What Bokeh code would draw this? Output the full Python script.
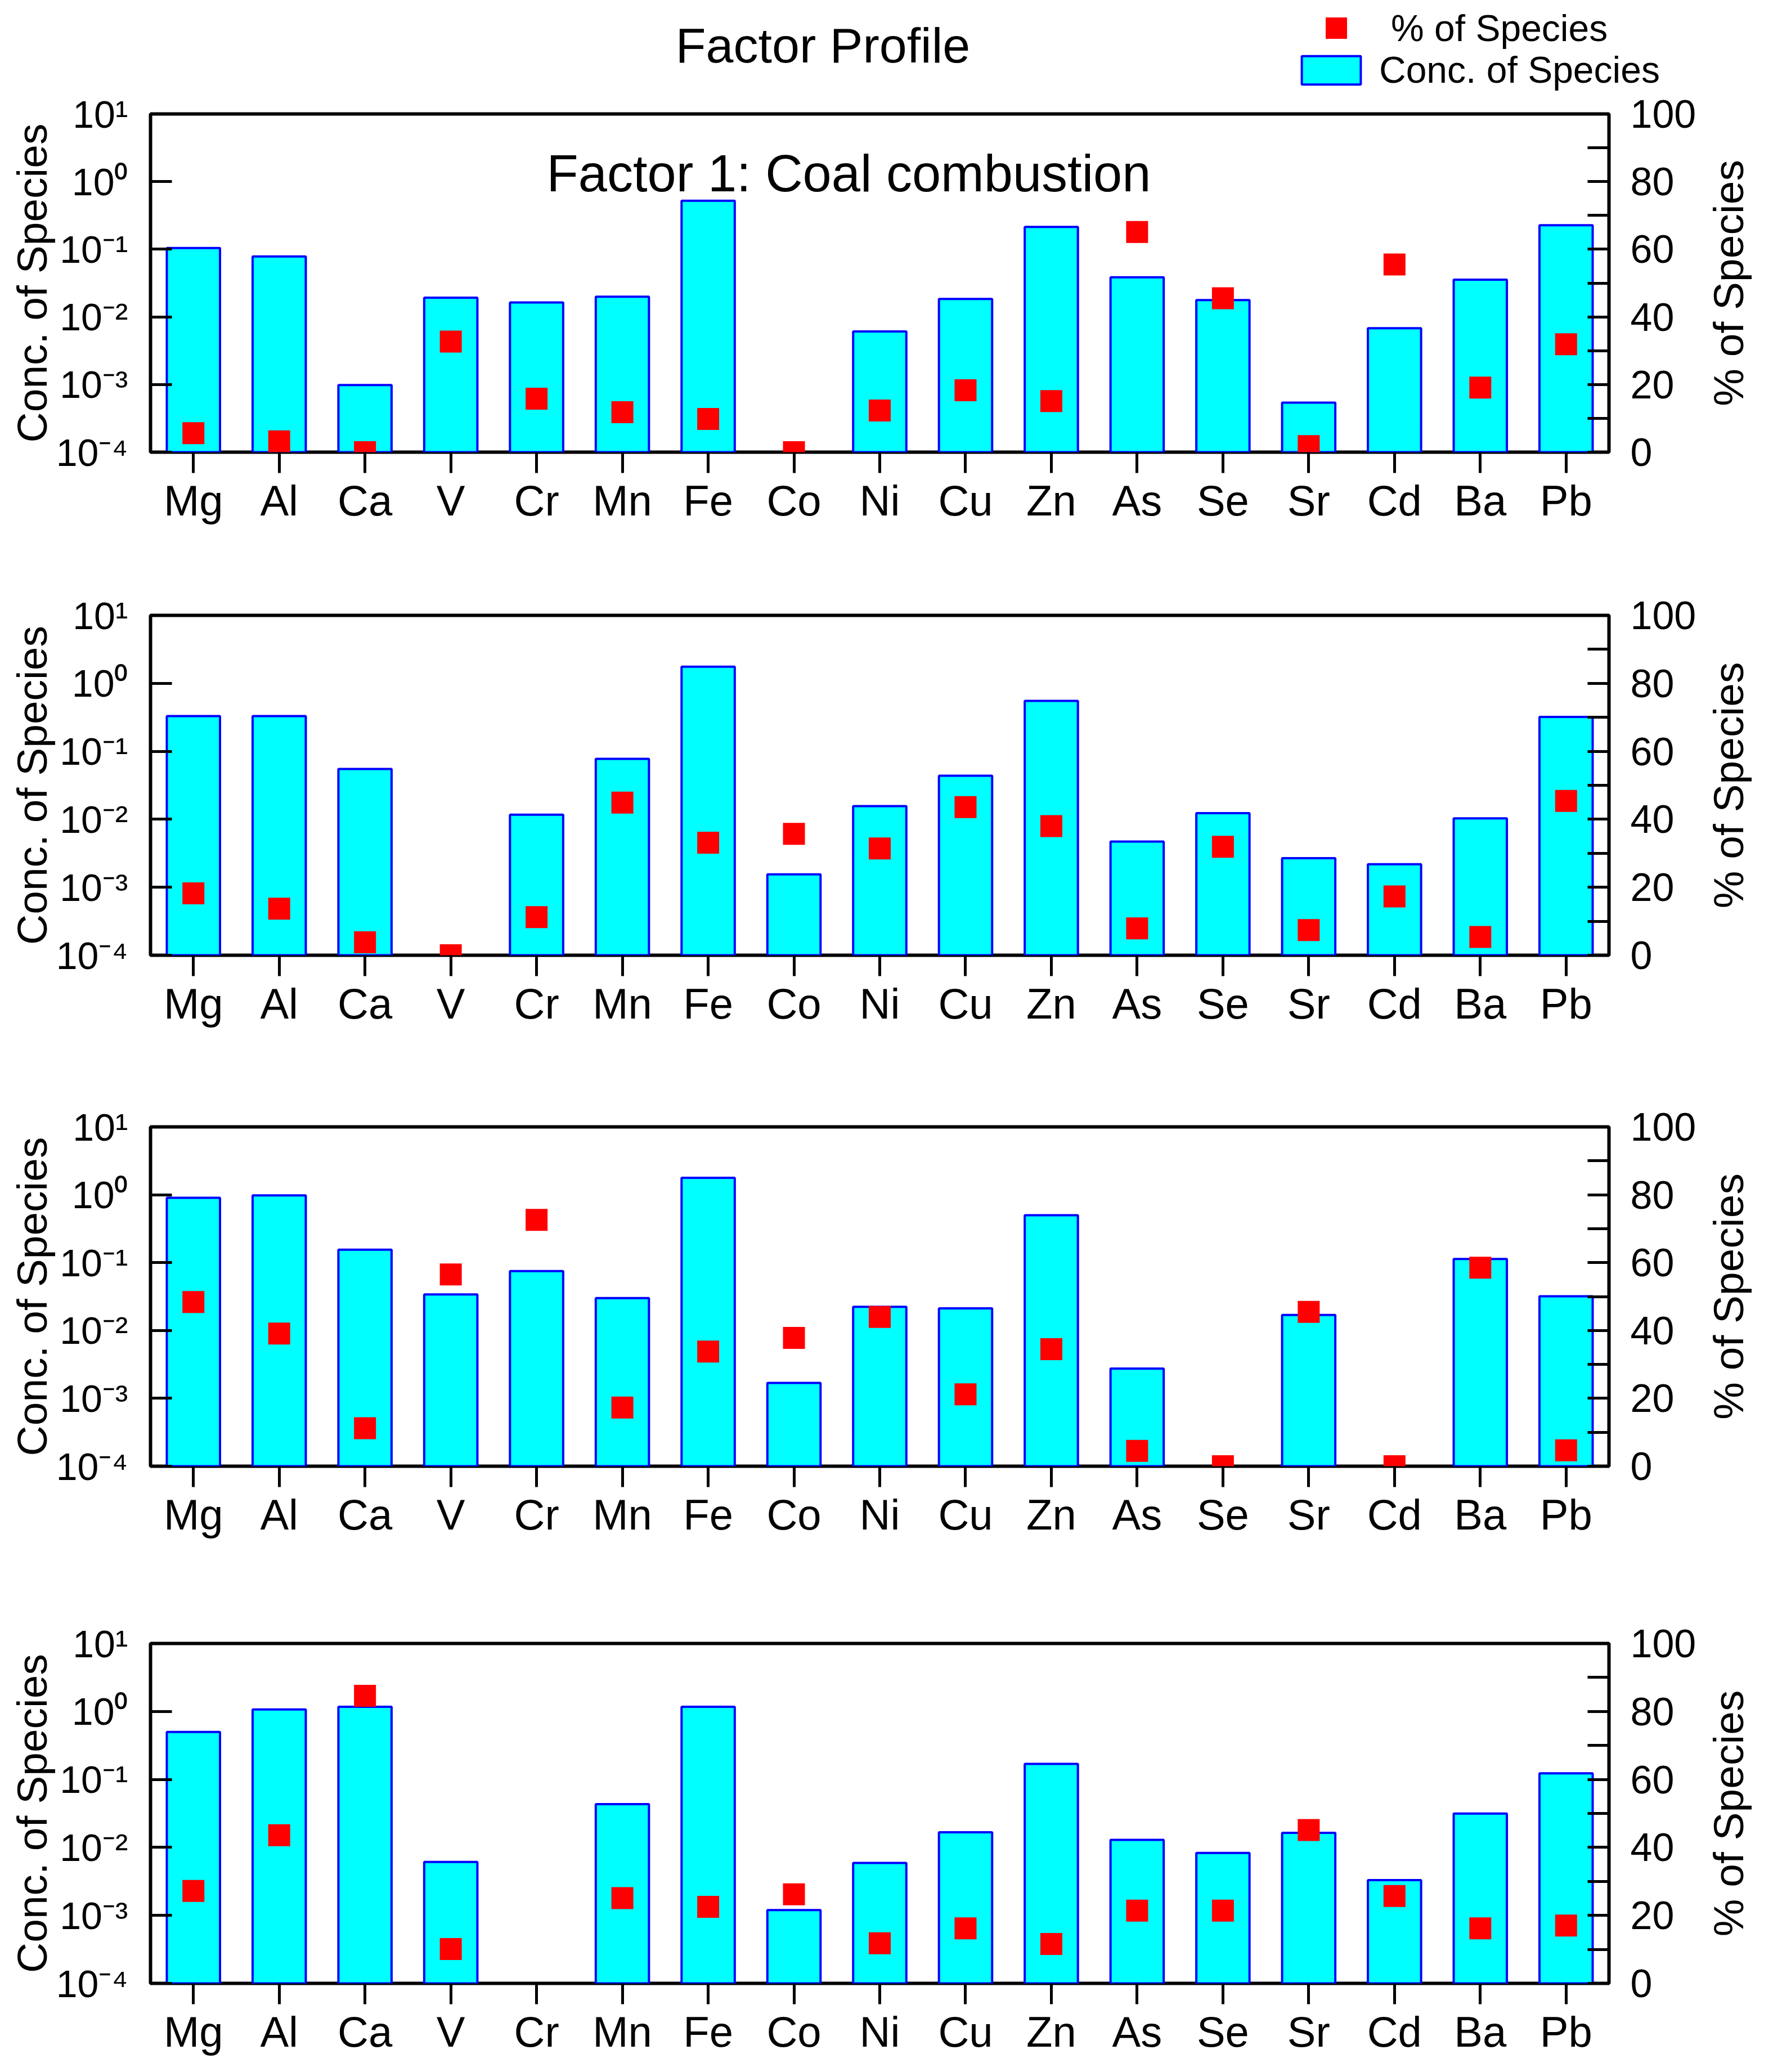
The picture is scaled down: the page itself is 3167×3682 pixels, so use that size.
import math
import numpy as np
from bokeh.plotting import figure
from bokeh.models import (FactorRange, Range1d, LinearAxis, LinearScale, FixedTicker,
                          Label, Legend, LegendItem, ColumnDataSource)
from bokeh.layouts import column
from bokeh.embed import file_html
from bokeh.resources import INLINE

# ---------------- data ----------------
elements = ["Mg", "Al", "Ca", "V", "Cr", "Mn", "Fe", "Co", "Ni", "Cu",
            "Zn", "As", "Se", "Sr", "Cd", "Ba", "Pb"]

f1_conc = [0.104, 0.078, 0.00098, 0.0192, 0.0163, 0.0199, 0.52, None, 0.0061, 0.0184,
           0.214, 0.0385, 0.0177, 0.00054, 0.0068, 0.0355, 0.226]
f1_pct = [5.6, 3.2, 0.0, 32.7, 15.8, 11.8, 9.8, 0.0, 12.3, 18.3,
          15.1, 65.1, 45.5, 1.8, 55.5, 19.1, 31.9]

f2_conc = [0.33, 0.33, 0.055, None, 0.0117, 0.0774, 1.76, 0.00155, 0.0156, 0.0438,
           0.552, 0.0047, 0.0123, 0.00268, 0.00218, 0.0103, 0.32]
f2_pct = [18.2, 13.7, 3.8, 0.0, 11.2, 44.9, 33.1, 35.7, 31.4, 43.6,
          38.0, 7.9, 31.9, 7.4, 17.3, 5.4, 45.4]

f3_conc = [0.90, 0.98, 0.155, 0.034, 0.075, 0.030, 1.78, 0.00169, 0.0223, 0.0212,
           0.50, 0.00274, None, 0.0169, None, 0.113, 0.032]
f3_pct = [48.4, 39.1, 11.2, 56.5, 72.6, 17.3, 33.8, 37.8, 44.0, 21.2,
          34.5, 4.5, 0.0, 45.5, 0.0, 58.5, 4.7]

f4_conc = [0.50, 1.07, 1.17, 0.0061, None, 0.0434, 1.17, 0.0012, 0.0059, 0.0167,
           0.169, 0.0129, 0.0083, 0.0164, 0.0033, 0.0315, 0.123]
f4_pct = [27.2, 43.6, 84.6, 10.1, None, 25.1, 22.5, 26.2, 11.8, 16.2,
          11.6, 21.4, 21.4, 45.1, 25.7, 16.2, 17.0]

log_ticks = [1e-4, 1e-3, 1e-2, 1e-1, 1.0, 10.0]
log_tick_labels = ["10\u207b\u2074", "10\u207b\u00b3", "10\u207b\u00b2", "10\u207b\u00b9",
                   "10\u2070", "10\u00b9"]
pct_ticks = [0, 20, 40, 60, 80, 100]
pct_minor = [10, 30, 50, 70, 90]

main_title = "Factor Profile"
subtitle = "Factor 1: Coal combustion"
left_title = "Conc. of Species"
right_title = "% of Species"
legend_pct = "% of Species"
legend_conc = "Conc. of Species"

FONT = "Liberation Sans"
W = 3159
BL, BR = 267, 300
RT_FONT = 75
RT_LEN = 5.836 * RT_FONT   # approx. rendered length of the right title


# ---------------- header (title + legend) ----------------
HDR_H = 162
hdr = figure(width=W, height=HDR_H, x_range=Range1d(0, 1), y_range=Range1d(0, 1),
             x_axis_location=None, y_axis_location=None, title=None,
             output_backend="svg", toolbar_location=None,
             min_border_left=0, min_border_right=0, min_border_top=0, min_border_bottom=0)
try:
    hdr.frame_align = False
except Exception:
    pass
hdr.grid.visible = False
hdr.outline_line_color = None
hdr.background_fill_color = "white"
hdr.border_fill_color = "white"
# legend-only renderers (no visible marks in the header)
h_sq = hdr.scatter(x=np.array([np.nan]), y=np.array([np.nan]), marker="square", size=38,
                   fill_color="#FF0000", line_color=None)
h_bar = hdr.vbar(x=np.array([np.nan]), top=np.array([np.nan]), width=0.5,
                 fill_color="#00FFFF", line_color="#0000FF", line_width=4)
hdr.add_layout(Label(x=1462, y=82, x_units="screen", y_units="screen",
                     text=main_title, text_align="center", text_baseline="alphabetic",
                     text_font_size="88px", text_font=FONT, text_color="black"))
leg1 = Legend(items=[LegendItem(label=legend_pct, renderers=[h_sq])],
              location=(2309, 65), glyph_width=131, glyph_height=95,
              label_standoff=32, padding=0, margin=0, spacing=0, label_height=76,
              border_line_color=None, background_fill_alpha=0,
              label_text_font_size="66px", label_text_font=FONT, label_text_color="black")
leg2 = Legend(items=[LegendItem(label=legend_conc, renderers=[h_bar])],
              location=(2300, 0), glyph_width=131, glyph_height=63,
              label_standoff=20, padding=0, margin=0, spacing=0, label_height=76,
              border_line_color=None, background_fill_alpha=0,
              label_text_font_size="66px", label_text_font=FONT, label_text_color="black")
hdr.add_layout(leg1)
hdr.add_layout(leg2)


def make_panel(conc, pct, top_b, frame_h, bot_b, first=False):
    p = figure(width=W, height=top_b + frame_h + bot_b,
               x_range=FactorRange(factors=elements, range_padding=0),
               y_range=Range1d(1e-4, 10), y_axis_type="log", title=None,
               output_backend="svg", toolbar_location=None,
               min_border_left=BL, min_border_right=BR,
               min_border_top=top_b, min_border_bottom=bot_b)
    p.extra_y_ranges = {"pct": Range1d(0, 100)}
    p.extra_y_scales = {"pct": LinearScale()}
    p.xgrid.visible = False
    p.ygrid.visible = False
    p.outline_line_color = "black"
    p.outline_line_width = 6
    p.outline_line_alpha = 1.0
    p.background_fill_color = "white"
    p.border_fill_color = "white"

    bi = [i for i, v in enumerate(conc) if v is not None]
    bsrc = ColumnDataSource(dict(el=[elements[i] for i in bi], top=[conc[i] for i in bi]))
    p.vbar(x="el", top="top", bottom=1e-4, width=0.62, source=bsrc,
           fill_color="#00FFFF", line_color="#0000FF", line_width=4)

    si = [i for i, v in enumerate(pct) if v is not None]
    ssrc = ColumnDataSource(dict(el=[elements[i] for i in si], pct=[pct[i] for i in si]))
    p.scatter(x="el", y="pct", source=ssrc, marker="square", size=39,
              fill_color="#FF0000", line_color=None, y_range_name="pct")

    la = p.left[0]
    la.ticker = FixedTicker(ticks=log_ticks, minor_ticks=[])
    la.major_label_overrides = {t: s for t, s in zip(log_ticks, log_tick_labels)}
    la.axis_line_color = None
    la.major_tick_in = 38
    la.major_tick_out = 0
    la.major_tick_line_width = 5
    la.minor_tick_in = 0
    la.minor_tick_out = 0
    la.major_label_standoff = 40
    la.major_label_text_font_size = "68px"
    la.major_label_text_font = FONT
    la.major_label_text_color = "black"
    la.axis_label = left_title
    la.axis_label_standoff = -2
    la.axis_label_text_font = FONT
    la.axis_label_text_font_size = "75px"
    la.axis_label_text_font_style = "normal"
    la.axis_label_text_color = "black"

    ra = LinearAxis(y_range_name="pct",
                    ticker=FixedTicker(ticks=pct_ticks, minor_ticks=pct_minor))
    ra.axis_line_color = None
    ra.major_tick_in = 38
    ra.major_tick_out = 0
    ra.minor_tick_in = 38
    ra.minor_tick_out = 0
    ra.major_tick_line_width = 5
    ra.minor_tick_line_width = 5
    ra.major_label_standoff = 38
    ra.major_label_text_font_size = "70px"
    ra.major_label_text_font = FONT
    ra.major_label_text_color = "black"
    p.add_layout(ra, "right")

    # right-hand title, reading bottom-to-top, centred on the frame
    t0 = round(50 - (RT_LEN / 2) / (frame_h / 100.0), 4)
    ra2 = LinearAxis(y_range_name="pct", ticker=FixedTicker(ticks=[t0], minor_ticks=[]))
    ra2.major_label_overrides = {t0: right_title}
    ra2.major_label_orientation = math.pi / 2
    ra2.axis_line_color = None
    ra2.major_tick_in = 0
    ra2.major_tick_out = 0
    ra2.minor_tick_in = 0
    ra2.minor_tick_out = 0
    ra2.major_label_standoff = 55
    ra2.major_label_text_font_size = "%dpx" % RT_FONT
    ra2.major_label_text_font = FONT
    ra2.major_label_text_color = "black"
    p.add_layout(ra2, "right")

    xa = p.below[0]
    xa.axis_line_color = None
    xa.major_tick_in = 0
    xa.major_tick_out = 37
    xa.major_tick_line_width = 5
    xa.major_label_standoff = 6
    xa.major_label_text_font_size = "76px"
    xa.major_label_text_font = FONT
    xa.major_label_text_color = "black"

    if first:
        p.add_layout(Label(x=1241, y=frame_h - (315 - 210), x_units="screen", y_units="screen",
                           text=subtitle, text_align="center", text_baseline="alphabetic",
                           text_font_size="92px", text_font=FONT, text_color="black"))
    return p


p1 = make_panel(f1_conc, f1_pct, 40, 601, 189, first=True)
p2 = make_panel(f2_conc, f2_pct, 101, 604, 200)
p3 = make_panel(f3_conc, f3_pct, 105, 603, 209)
p4 = make_panel(f4_conc, f4_pct, 106, 604, 142)

layout = column(hdr, p1, p2, p3, p4)
open("out.html", "w").write(file_html(layout, INLINE))
